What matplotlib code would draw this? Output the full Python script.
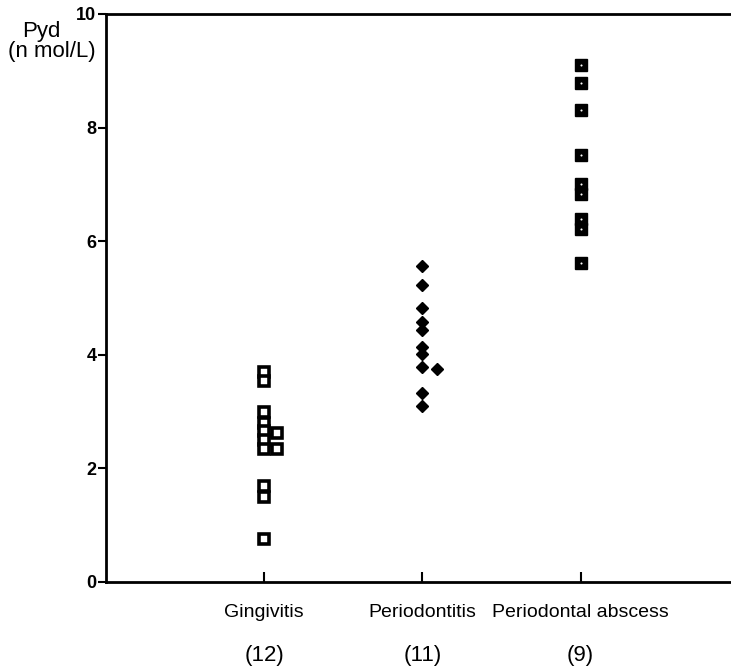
import matplotlib
matplotlib.use('Agg')
import matplotlib.pyplot as plt
import matplotlib.transforms as mtransforms

plt.rcParams['font.family'] = ['Liberation Sans', 'DejaVu Sans']

# data (Pyd, n mol/L)
categories = ['Gingivitis', 'Periodontitis', 'Periodontal abscess']
counts = ['(12)', '(11)', '(9)']

gingivitis_vals = [3.70, 3.54, 2.99, 2.80, 2.65, 2.50, 2.34, 1.69, 1.50, 0.75]
gingivitis_side = [2.63, 2.35]            # points plotted next to the column
periodontitis_vals = [5.57, 5.23, 4.82, 4.58, 4.44, 4.14, 4.01, 3.78, 3.32, 3.10]
periodontitis_side = [3.75]
abscess_vals = [9.10, 8.79, 8.31, 7.52, 7.00, 6.83, 6.39, 6.21, 5.61]

fig = plt.figure(figsize=(7.31, 6.66), dpi=100)
ax = fig.add_axes([106 / 731, 84 / 666, 625 / 731, 568 / 666])

# gingivitis - open squares
ax.plot([1] * len(gingivitis_vals), gingivitis_vals, 's', ms=6.5,
        mfc='white', mec='black', mew=2.6, ls='none')
ax.plot([1.08] * len(gingivitis_side), gingivitis_side, 's', ms=6.5,
        mfc='white', mec='black', mew=2.6, ls='none')

# periodontitis - filled diamonds
ax.plot([2] * len(periodontitis_vals), periodontitis_vals, 'D', ms=6.5,
        color='black', ls='none')
ax.plot([2.09] * len(periodontitis_side), periodontitis_side, 'D', ms=6.5,
        color='black', ls='none')

# abscess - filled squares with a small dot
ax.plot([3] * len(abscess_vals), abscess_vals, 's', ms=8,
        color='black', ls='none')
ax.plot([3] * len(abscess_vals), abscess_vals, 'o', ms=1.5,
        color='white', mew=0, ls='none')

ax.set_xlim(0, 3.95)
ax.set_ylim(0, 10)
ax.set_yticks([0, 2, 4, 6, 8, 10])
ax.set_xticks([1, 2, 3])
ax.set_xticklabels(categories, fontsize=14)
for lab in ax.get_yticklabels():
    lab.set_fontweight('bold')

ax.spines['right'].set_visible(False)
for s in ['left', 'bottom', 'top']:
    ax.spines[s].set_linewidth(2)

ax.tick_params(axis='y', direction='out', length=6, width=1.5, labelsize=13, pad=1)
ax.tick_params(axis='x', direction='in', length=7, width=1.5, pad=16)

trans = mtransforms.blended_transform_factory(ax.transData, ax.transAxes)
for i, c in enumerate(counts):
    ax.text(i + 1, -0.130, c, transform=trans, ha='center', va='center', fontsize=16)

fig.text(22 / 731, 1 - 32 / 666, 'Pyd', fontsize=16, ha='left', va='center')
fig.text(8 / 731, 1 - 51 / 666, '(n mol/L)', fontsize=16, ha='left', va='center')

fig.savefig('out.png', dpi=100)
